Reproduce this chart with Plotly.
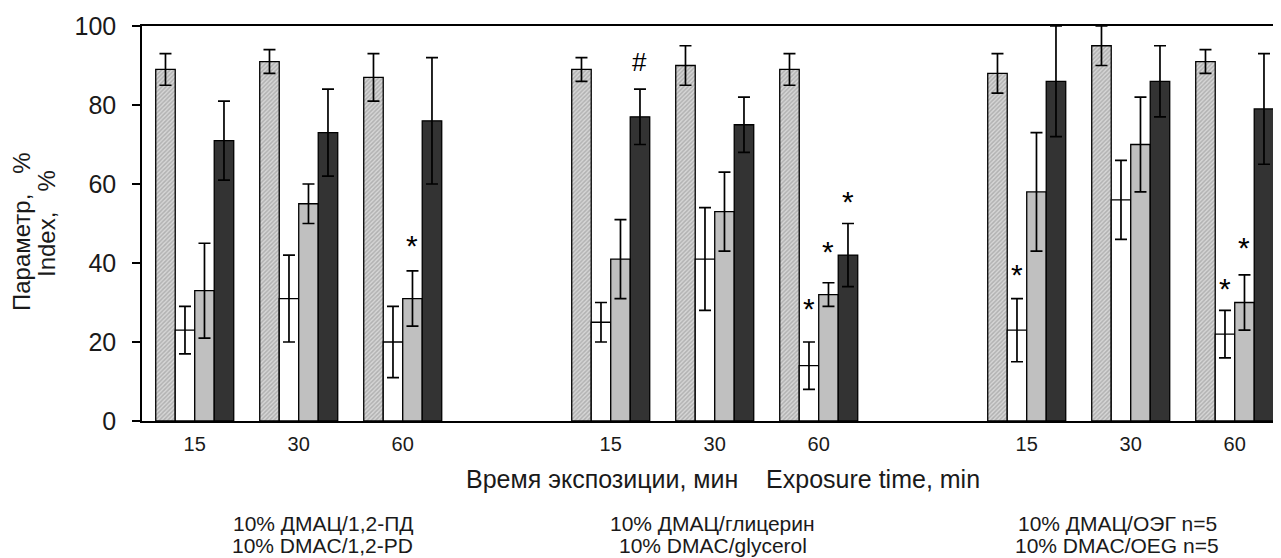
import plotly.graph_objects as go

# ---- data ----
group_line1 = ["10% ДМАЦ/1,2-ПД", "10% ДМАЦ/глицерин", "10% ДМАЦ/ОЭГ n=5"]
group_line2 = ["10% DMAC/1,2-PD", "10% DMAC/glycerol", "10% DMAC/OEG n=5"]
times = ["15", "30", "60"]
positions = [0, 1, 2, 4, 5, 6, 8, 9, 10]
tick_text = times * 3

control = [89, 91, 87, 89, 90, 89, 88, 95, 91]
control_err = [4, 3, 6, 3, 5, 4, 5, 5, 3]
white = [23, 31, 20, 25, 41, 14, 23, 56, 22]
white_err = [6, 11, 9, 5, 13, 6, 8, 10, 6]
gray = [33, 55, 31, 41, 53, 32, 58, 70, 30]
gray_err = [12, 5, 7, 10, 10, 3, 15, 12, 7]
dark = [71, 73, 76, 77, 75, 42, 86, 86, 79]
dark_err = [10, 11, 16, 7, 7, 8, 14, 9, 14]

# significance marks: (subgroup index, bar index, y value, symbol)
marks = [(2, 2, 44.5, "*"), (5, 1, 28.5, "*"), (5, 2, 43, "*"), (5, 3, 55.5, "*"),
         (6, 1, 37, "*"), (8, 1, 33.5, "*"), (8, 2, 44, "*"), (3, 3, 91, "#")]

FONT = "Liberation Sans, Arial, sans-serif"
TXT = "#1a1a1a"
OFF = 8  # page body margin
W, H = 1281 - OFF, 558 - OFF
ML, MR, MT, MB = 142 - OFF, 0, 26 - OFF, 137
PX_PER_UNIT = 104.0
x_left = -0.507
x_right = x_left + (W - ML - MR) / PX_PER_UNIT

fig = go.Figure()

def err(a):
    return dict(type="data", array=a, visible=True, color="black", thickness=1.7, width=6)

fig.add_trace(go.Bar(x=positions, y=control, error_y=err(control_err), name="control",
                     marker=dict(color="#cccccc", line=dict(color="black", width=1.3),
                                 pattern=dict(shape="/", fgcolor="#8c8c8c", bgcolor="#d6d6d6",
                                              size=3, solidity=0.5))))
fig.add_trace(go.Bar(x=positions, y=white, error_y=err(white_err), name="s2",
                     marker=dict(color="white", line=dict(color="black", width=1.3))))
fig.add_trace(go.Bar(x=positions, y=gray, error_y=err(gray_err), name="s3",
                     marker=dict(color="#c0c0c0", line=dict(color="black", width=1.3))))
fig.add_trace(go.Bar(x=positions, y=dark, error_y=err(dark_err), name="s4",
                     marker=dict(color="#333333", line=dict(color="black", width=1.3))))

offsets = [-0.28125, -0.09375, 0.09375, 0.28125]
ann = []
for si, bi, yv, sym in marks:
    ann.append(dict(x=positions[si] + offsets[bi], y=yv, xref="x", yref="y", text=sym,
                    showarrow=False, font=dict(family=FONT, size=30 if sym == "*" else 26, color="black"),
                    yanchor="middle", xanchor="center"))

def py(p):  # reference pixel y -> paper
    return (H - MB - (p - OFF)) / (H - MT - MB)

def px(p):  # reference pixel x -> paper
    return ((p - OFF) - ML) / (W - ML - MR)

ann.append(dict(x=px(723), y=py(479), xref="paper", yref="paper",
                text="Время экспозиции, мин\u00a0\u00a0\u00a0\u00a0Exposure time, min",
                showarrow=False, font=dict(family=FONT, size=25, color=TXT),
                xanchor="center", yanchor="middle"))
ann_x = [1.23, 4.98, 8.87]
for gx, l1, l2 in zip(ann_x, group_line1, group_line2):
    ann.append(dict(x=gx, y=py(523), xref="x", yref="paper", text=l1, showarrow=False,
                    font=dict(family=FONT, size=21, color=TXT), xanchor="center", yanchor="middle"))
    ann.append(dict(x=gx, y=py(545), xref="x", yref="paper", text=l2, showarrow=False,
                    font=dict(family=FONT, size=21, color=TXT), xanchor="center", yanchor="middle"))
ann.append(dict(x=px(21), y=py(232), xref="paper", yref="paper",
                text="Параметр,\u00a0\u00a0\u00a0%",
                textangle=-90, showarrow=False, font=dict(family=FONT, size=24, color=TXT),
                xanchor="center", yanchor="middle"))
ann.append(dict(x=px(46), y=py(224), xref="paper", yref="paper", text="Index,\u00a0\u00a0\u00a0%",
                textangle=-90, showarrow=False, font=dict(family=FONT, size=24, color=TXT),
                xanchor="center", yanchor="middle"))

fig.update_layout(
    width=W, height=H, margin=dict(l=ML, r=MR, t=MT, b=MB, autoexpand=False),
    paper_bgcolor="white", plot_bgcolor="white",
    barmode="group", bargap=0.25, bargroupgap=0, showlegend=False,
    annotations=ann,
    xaxis=dict(range=[x_left, x_right], tickvals=positions, ticktext=tick_text,
               showline=True, linecolor="black", linewidth=1.5, mirror=True,
               ticks="", showgrid=False, zeroline=False, ticklabelstandoff=4,
               tickfont=dict(family=FONT, size=20, color=TXT)),
    yaxis=dict(range=[0, 100], tickvals=[0, 20, 40, 60, 80, 100],
               showline=True, linecolor="black", linewidth=1.5,
               ticks="outside", ticklen=8, tickwidth=1.5, tickcolor="black",
               showgrid=False, zeroline=False, ticklabelstandoff=11,
               tickfont=dict(family=FONT, size=25, color=TXT)),
)

fig.write_html("out.html")
